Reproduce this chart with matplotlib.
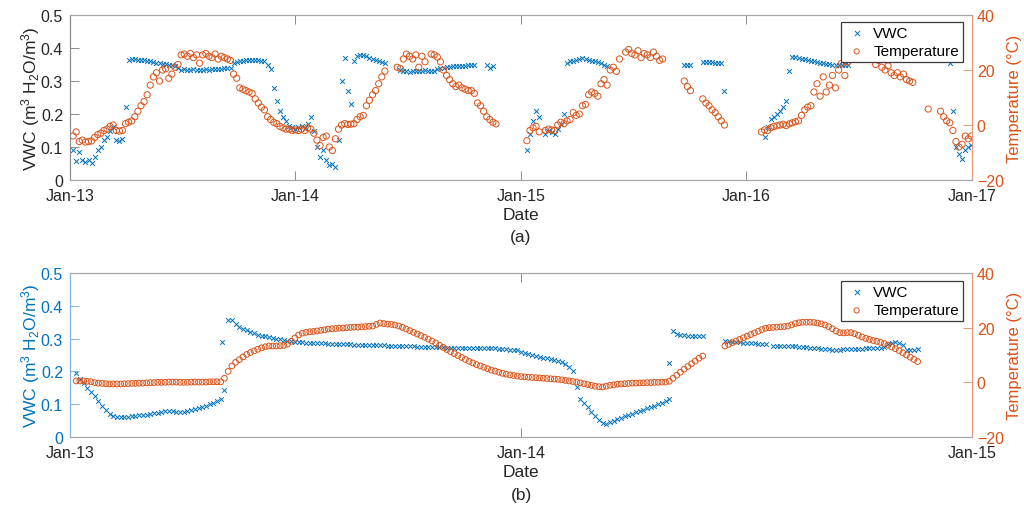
import matplotlib
matplotlib.use("Agg")

import matplotlib.pyplot as plt
import matplotlib.dates as mdates
import numpy as np
import pandas as pd

plt.rcParams["font.family"] = ["Liberation Sans", "DejaVu Sans"]
plt.rcParams["mathtext.fontset"] = "custom"
plt.rcParams["mathtext.rm"] = "Liberation Sans"
plt.rcParams["mathtext.it"] = "Liberation Sans:italic"

nan = np.nan

BLUE   = "#0072BD"
ORANGE = "#D95319"
FS     = 11.5

# ── (a) 2013-2016, one reading every 5 days ─────────────────────────────────
A_START = "2013-01-06"
A_STEP  = 5

a_vwc = [
    0.09, 0.058, 0.085, 0.06, 0.055, 0.06, 0.052, 0.07, 0.09, 0.1,
    0.12, 0.13, 0.15, 0.16, 0.12, 0.118, 0.125, 0.22, 0.365, 0.367,
    0.366, 0.364, 0.365, 0.363, 0.362, 0.36, 0.358, 0.356, 0.355, 0.353,
    0.352, 0.35, 0.35, 0.345, 0.338, 0.334, 0.335, 0.333, 0.334, 0.335,
    0.334, 0.333, 0.334, 0.335, 0.334, 0.336, 0.335, 0.336, 0.337, 0.338,
    0.339, 0.34, 0.355, 0.358, 0.36, 0.362, 0.363, 0.364, 0.365, 0.365,
    0.363, 0.362, 0.36, 0.35, 0.335, 0.28, 0.24, 0.21, 0.19, 0.18,
    0.165, 0.16, 0.155, 0.16, 0.165, 0.158, 0.17, 0.19, 0.15, 0.1,
    0.07, 0.09, 0.06, 0.045, 0.05, 0.04, 0.12, 0.3, 0.37, 0.27,
    0.23, 0.36, 0.375, 0.38, 0.378, 0.375, 0.37, 0.368, 0.365, 0.36,
    0.358, 0.355, nan, nan, nan, nan, 0.332, 0.33, 0.331, 0.328,
    0.33, 0.329, 0.331, 0.33, 0.333, 0.33, 0.331, 0.33, 0.335, 0.338,
    0.34, 0.342, 0.343, 0.344, 0.345, 0.345, 0.346, 0.346, 0.347, 0.347,
    0.347, nan, nan, nan, 0.35, 0.34, 0.345, nan, nan, nan,
    nan, nan, nan, nan, nan, nan, nan, 0.09, 0.14, 0.18,
    0.21, 0.19, nan, 0.14, 0.15, 0.145, 0.14, 0.155, 0.17, 0.2,
    0.355, 0.36, 0.362, 0.365, 0.368, 0.37, 0.368, 0.365, 0.362, 0.36,
    0.357, 0.354, 0.35, 0.345, nan, nan, nan, nan, nan, nan,
    nan, nan, nan, nan, nan, nan, nan, nan, nan, nan,
    nan, nan, nan, nan, nan, nan, nan, nan, 0.348, 0.348,
    0.347, nan, nan, nan, 0.357, 0.358, 0.358, 0.357, 0.356, 0.355,
    0.355, 0.27, nan, nan, nan, nan, nan, nan, nan, nan,
    nan, nan, nan, nan, 0.13, 0.16, 0.185, 0.19, 0.2, 0.21,
    0.22, 0.24, 0.33, 0.372, 0.372, 0.37, 0.368, 0.366, 0.364, 0.362,
    0.36, 0.357, 0.355, 0.354, 0.352, 0.352, 0.35, 0.35, 0.35, 0.348,
    0.35, 0.35, nan, nan, nan, nan, nan, nan, nan, nan,
    nan, nan, nan, nan, nan, nan, nan, nan, nan, nan,
    nan, nan, nan, nan, nan, nan, nan, nan, nan, nan,
    nan, nan, nan, nan, 0.355, 0.21, 0.1, 0.08, 0.065, 0.09,
    0.1, 0.105,
]

a_temp = [
    -4, -2.5, -6, -5.5, -6.2, -6, -5.8, -4.5, -3.5, -3,
    -2, -1.5, -0.5, 0, -2, -2.2, -2, 0.5, 1, 1.5,
    3, 5, 7, 8.5, 11, 14.5, 17.5, 19, 16, 20,
    20.5, 17, 18.5, 21, 22, 25.5, 25.8, 25, 26, 24.5,
    25.5, 22.5, 25.5, 26, 25, 24.5, 25.8, 24, 25, 24.5,
    24, 23.5, 18.5, 17, 13.5, 13, 12.5, 12, 11.5, 9.5,
    8, 6.5, 5.5, 3, 2, 1, 0.5, -0.5, -1, -1.5,
    -1.5, -2, -1.8, -2, -1.5, -2, -1, -1.5, -3, -5.5,
    -7.5, -4.5, -4, -8, -9.3, -5, -1.5, 0, 0.5, 0.2,
    0.3, 0.5, 2, 3, 3.5, 7, 9, 11, 12.5, 15,
    17.5, 19.6, nan, nan, nan, 21, 20.5, 24, 25.8, 25,
    24, 25.5, 21, 25, 23, nan, 25.8, 25.5, 24.7, 23,
    20, 18, 16.5, 15, 14, 14.5, 13.5, 13, 12.5, 12.5,
    11.5, 8, 7, 5, 3, 2, 1, 0.4, nan, nan,
    nan, nan, nan, nan, nan, nan, nan, -5.7, -2, -1,
    -0.5, -2.5, nan, -2, -1.5, -1.8, -2, 0, 1, 0.5,
    1.5, 2, 4.5, 3.5, 4, 7, 7.5, 11, 12, 11.5,
    10.5, 15, 16.5, 14.5, 20, 21, 19.5, 24, nan, 26.5,
    27.5, 26, 25.5, 27, 24.5, 26, 25.5, 24.5, 26.5, 25,
    23.5, 24, nan, nan, nan, nan, nan, nan, 16, 14,
    12.5, nan, nan, nan, 9.5, 8, 7, 5.5, 4.5, 3,
    1.5, 0, nan, nan, nan, nan, nan, nan, nan, nan,
    nan, nan, nan, -2.5, -1.8, -2, -1, -0.5, -0.3, 0,
    0.3, -0.2, 0.4, 0.8, 1.2, 1.5, 3.5, 5.5, 6.5, 7,
    12, 15, 10.5, 17.5, 12, 14.5, 18, 13.5, 20, 22.5,
    18, 23, 24, 25, 25.5, 26, 25, 24.5, 25, 24,
    22, 23.5, 21, 20, 21.5, 19, 18, 19, 17.5, 18.5,
    16.5, 16, 15.5, nan, nan, nan, nan, 5.8, nan, nan,
    nan, 5, 3, 1.5, 0.8, -2, -6, -8, -7, -4,
    -5, -4,
]

# ── (b) 2013-2014, one reading every 3 days ─────────────────────────────────
B_START = "2013-01-06"
B_STEP  = 3

b_vwc = [
    0.195, 0.178, 0.165, 0.15, 0.138, 0.125, 0.11, 0.095, 0.082, 0.07,
    0.065, 0.062, 0.061, 0.061, 0.062, 0.063, 0.064, 0.066, 0.067, 0.068,
    0.07, 0.072, 0.074, 0.077, 0.079, 0.08, 0.078, 0.076, 0.075, 0.076,
    0.079, 0.082, 0.085, 0.088, 0.092, 0.096, 0.1, 0.104, 0.109, 0.115,
    0.143, 0.358, 0.356, 0.345, 0.336, 0.33, 0.325, 0.32, 0.316, 0.312,
    0.309, 0.307, 0.305, 0.302, 0.3, 0.298, 0.296, 0.294, 0.292, 0.29,
    0.289, 0.289, 0.288, 0.288, 0.287, 0.287, 0.286, 0.286, 0.285, 0.285,
    0.284, 0.284, 0.283, 0.283, 0.283, 0.282, 0.282, 0.281, 0.281, 0.28,
    0.28, 0.28, 0.279, 0.279, 0.278, 0.278, 0.278, 0.277, 0.277, 0.276,
    0.276, 0.276, 0.275, 0.275, 0.274, 0.274, 0.274, 0.273, 0.273, 0.273,
    0.272, 0.272, 0.272, 0.271, 0.271, 0.271, 0.271, 0.27, 0.27, 0.27,
    0.27, 0.27, 0.27, 0.27, 0.269, 0.268, 0.267, 0.266, 0.265, 0.264,
    0.26, 0.257, 0.254, 0.25, 0.247, 0.244, 0.242, 0.24, 0.237, 0.234,
    0.231, 0.228, 0.222, 0.214, 0.2, 0.152, 0.116, 0.103, 0.09, 0.077,
    0.064, 0.052, 0.042, 0.041, 0.046, 0.05, 0.055, 0.059, 0.063, 0.067,
    0.071, 0.075, 0.079, 0.083, 0.087, 0.091, 0.095, 0.1, 0.105, 0.11,
    0.116, 0.324, 0.315, 0.312, 0.31, 0.309, 0.308, 0.308, 0.308, 0.309,
    nan, nan, nan, nan, nan, 0.293, 0.292, 0.291, 0.29, 0.289,
    0.288, 0.287, 0.287, 0.286, 0.285, 0.285, 0.285, nan, 0.278, 0.278,
    0.278, 0.278, 0.278, 0.277, 0.276, 0.275, 0.274, 0.273, 0.272, 0.271,
    0.27, 0.269, 0.268, 0.267, 0.266, 0.266, 0.266, 0.267, 0.267, 0.268,
    0.268, 0.269, 0.269, 0.27, 0.27, 0.27, 0.271, 0.271, 0.275, 0.283,
    0.287, 0.29, 0.288, 0.28, 0.265, 0.264, 0.266, 0.268,
]

b_temp = [
    0.5, 0.5, 0.5, 0.4, 0.2, -0.1, -0.3, -0.4, -0.5, -0.6,
    -0.6, -0.6, -0.6, -0.5, -0.5, -0.4, -0.4, -0.3, -0.3, -0.2,
    -0.1, -0.1, 0, 0, 0, 0.1, 0.1, 0.1, 0, 0,
    0, 0.1, 0.1, 0.1, 0.1, 0.1, 0.2, 0.2, 0.2, 0.2,
    1.5, 4, 6, 7.3, 8.3, 9.3, 10.2, 10.9, 11.5, 12.1,
    12.6, 13, 13.3, 13.3, 13.3, 13.4, 13.5, 14, 15, 16.2,
    17.3, 18, 18.3, 18.5, 18.6, 18.8, 19, 19.2, 19.5, 19.6,
    19.7, 19.8, 19.9, 20, 20.1, 20.2, 20.2, 20.3, 20.4, 20.5,
    20.6, 21.2, 21.7, 21.5, 21.3, 21.2, 21, 20.6, 20.1, 19.5,
    18.9, 18.3, 17.7, 17.1, 16.5, 15.8, 15.1, 14.4, 13.6, 12.8,
    12, 11.2, 10.5, 9.8, 9.1, 8.4, 7.7, 7.1, 6.5, 6,
    5.5, 5, 4.5, 4.1, 3.7, 3.3, 3, 2.7, 2.5, 2.3,
    2.1, 2, 1.9, 1.8, 1.7, 1.6, 1.5, 1.4, 1.3, 1.2,
    1.1, 0.9, 0.7, 0.5, 0.3, 0.1, -0.2, -0.5, -0.8, -1.1,
    -1.4, -1.6, -1.7, -1.4, -1.1, -0.9, -0.7, -0.6, -0.5, -0.4,
    -0.3, -0.3, -0.2, -0.2, -0.1, -0.1, 0, 0, 0.1, 0.1,
    0.4, 1.5, 2.6, 3.7, 4.8, 5.8, 6.8, 7.8, 8.8, 9.6,
    nan, nan, nan, nan, nan, 13.3, 13.9, 14.5, 15.1, 15.7,
    16.3, 16.9, 17.5, 18.1, 18.7, 19.3, 19.8, 20, 20.1, 20.2,
    20.3, 20.4, 20.6, 21, 21.5, 21.8, 22, 22, 22, 21.9,
    21.7, 21.4, 21, 20.4, 19.6, 18.8, 18.2, 18.1, 18.2, 18.2,
    17.8, 17.2, 16.6, 16.1, 15.7, 15.3, 15, 14.6, 14.2, 13.6,
    13, 12.3, 11.6, 10.8, 10, 9.2, 8.4, 7.6,
]

# isolated VWC readings off the regular grid
b_vwc_extra_dates = ["2013-05-04", "2014-05-01"]
b_vwc_extra       = [0.29, 0.226]


def style_axes(ax, ax2, left_color, left_spine):
    ax.set_ylim(0, 0.5)
    ax.set_yticks([0, 0.1, 0.2, 0.3, 0.4, 0.5])
    ax.set_yticklabels(["0", "0.1", "0.2", "0.3", "0.4", "0.5"])
    ax2.set_ylim(-20, 40)
    ax2.set_yticks([-20, 0, 20, 40])

    ax.xaxis.set_major_locator(mdates.YearLocator())
    ax.xaxis.set_major_formatter(mdates.DateFormatter("%b-%y"))

    ax.tick_params(axis="x", direction="in", length=6.5, width=0.7, color="#8c8c8c",
                   top=True, labelsize=FS, labelcolor="#262626", pad=6)
    ax.tick_params(axis="y", direction="in", length=6.5, width=0.7, color=left_spine,
                   labelsize=FS, labelcolor=left_color, pad=5)
    ax2.tick_params(axis="y", direction="in", length=6.5, width=0.7, color="#e59b79",
                    labelsize=FS, labelcolor=ORANGE, pad=3.5)

    for a in (ax, ax2):
        for side in ("top", "bottom"):
            a.spines[side].set_color("#a6a6a6")
            a.spines[side].set_linewidth(0.8)
        a.spines["left"].set_color(left_spine)
        a.spines["left"].set_linewidth(0.8)
        a.spines["right"].set_color("#e59b79")
        a.spines["right"].set_linewidth(0.8)

    ax.set_ylabel(r"VWC (m$^3$ H$_2$O/m$^3$)", fontsize=FS + 1, color=left_color)
    ax.yaxis.set_label_coords(-0.031, 0.5)
    ax2.set_ylabel("Temperature (°C)", fontsize=FS + 0.5, color=ORANGE, rotation=90)
    ax2.yaxis.set_label_coords(1.039, 0.5)
    ax.set_xlabel("Date", fontsize=FS + 1, color="#262626", labelpad=3)


def draw_panel(ax, dates, vwc, temp, legend_top, s_x, s_o):
    ax2 = ax.twinx()
    h1 = ax.scatter(dates, vwc, marker="x", s=s_x, linewidths=0.7, color=BLUE, label="VWC")
    h2 = ax2.scatter(dates, temp, marker="o", s=s_o, linewidths=0.7,
                     facecolors="none", edgecolors=ORANGE, label="Temperature")
    leg = ax2.legend([h1, h2], ["VWC", "Temperature"], loc="upper right",
                     bbox_to_anchor=(963 / 1024, legend_top), bbox_transform=fig.transFigure,
                     fontsize=FS - 0.5, frameon=True, fancybox=False, framealpha=1,
                     edgecolor="#3a3a3a", borderaxespad=0, borderpad=0.25,
                     labelspacing=0.3, handlelength=1.6, handletextpad=0.3,
                     scatterpoints=1)
    leg.get_frame().set_linewidth(0.9)
    for h in leg.legend_handles:
        h.set_sizes([14])
    return ax2


fig = plt.figure(figsize=(10.24, 5.06), dpi=100)
ax_a = fig.add_axes([70 / 1024, 1 - 181 / 506, 902 / 1024, 165 / 506])
ax_b = fig.add_axes([70 / 1024, 1 - 438 / 506, 902 / 1024, 164 / 506])

dates_a = pd.date_range(A_START, periods=len(a_vwc), freq=f"{A_STEP}D")
dates_b = pd.date_range(B_START, periods=len(b_vwc), freq=f"{B_STEP}D")

ax2_a = draw_panel(ax_a, dates_a, a_vwc, a_temp, 1 - 23 / 506, 12, 20)
ax_a.set_xlim(pd.Timestamp("2013-01-01"), pd.Timestamp("2017-01-01"))
style_axes(ax_a, ax2_a, "#262626", "#8c8c8c")

ax2_b = draw_panel(ax_b, dates_b, b_vwc, b_temp, 1 - 282 / 506, 11, 17)
ax_b.scatter(pd.to_datetime(b_vwc_extra_dates), b_vwc_extra, marker="x", s=11,
             linewidths=0.7, color=BLUE)
ax_b.set_xlim(pd.Timestamp("2013-01-01"), pd.Timestamp("2015-01-01"))
style_axes(ax_b, ax2_b, BLUE, "#7fb3da")

fig.text(521 / 1024, 1 - 238 / 506, "(a)", ha="center", va="center", fontsize=FS + 1,
         color="#262626")
fig.text(521 / 1024, 1 - 496 / 506, "(b)", ha="center", va="center", fontsize=FS + 1,
         color="#262626")

fig.savefig("out.png", dpi=100)
